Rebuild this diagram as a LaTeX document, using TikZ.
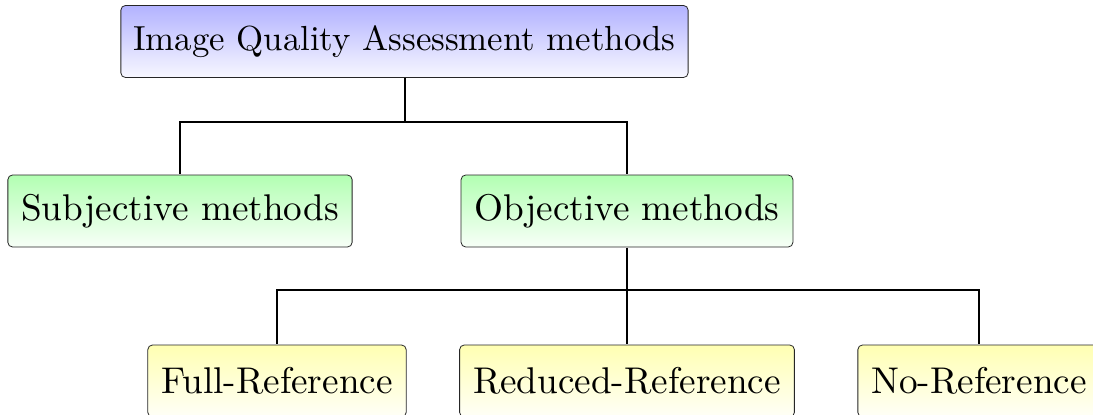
\documentclass[tikz,border=0pt]{standalone}
\tikzset{
  box/.style={draw=black!85, rounded corners=2.3pt, inner xsep=3.6pt,
    font=\fontsize{10}{12}\selectfont, anchor=center, transform shape},
  bluebox/.style={box, scale=1.74, minimum height=20.7pt, top color=blue!30, bottom color=blue!3},
  greenbox/.style={box, scale=1.86, minimum height=19.35pt, top color=green!30, bottom color=green!3},
  yellowbox/.style={box, scale=1.86, minimum height=19.35pt, top color=yellow!30, bottom color=yellow!3},
  conn/.style={line width=1pt}
}
\begin{document}
\begin{tikzpicture}
\clip (0,0) rectangle (546.5pt,-207.5pt);
\coordinate (ctop) at (202.25pt,-20.75pt);
\coordinate (csub) at (90pt,-105.5pt);
\coordinate (cobj) at (313.5pt,-105.5pt);
\coordinate (cfull) at (138.5pt,-190.5pt);
\coordinate (cred) at (313.5pt,-190.5pt);
\coordinate (cno) at (489.5pt,-190.5pt);
\node[bluebox] (top) at (ctop) {Image Quality Assessment methods};
\node[greenbox] (sub) at (csub) {Subjective methods};
\node[greenbox] (obj) at (cobj) {Objective methods};
\node[yellowbox] (full) at (cfull) {Full-Reference};
\node[yellowbox] (red) at (cred) {Reduced-Reference};
\node[yellowbox] (no) at (cno) {No-Reference};
\coordinate (b1) at (202.25pt,-61pt);
\coordinate (b2) at (313.5pt,-145pt);
\draw[conn] (top.south) -- (b1);
\draw[conn] (b1) -| (sub.north);
\draw[conn] (b1) -| (obj.north);
\draw[conn] (obj.south) -- (b2);
\draw[conn] (b2) -| (full.north);
\draw[conn] (b2) -- (red.north);
\draw[conn] (b2) -| (no.north);
\end{tikzpicture}
\end{document}
